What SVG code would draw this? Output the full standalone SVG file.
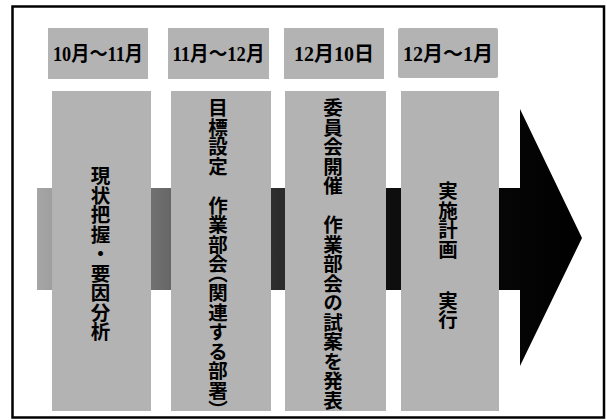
<svg xmlns="http://www.w3.org/2000/svg" width="607" height="420" viewBox="0 0 607 420">
  <defs>
    <linearGradient id="shaftGrad" gradientUnits="userSpaceOnUse" x1="37" y1="0" x2="582" y2="0">
      <stop offset="0" stop-color="#a6a6a6"/>
      <stop offset="0.22" stop-color="#6e6e6e"/>
      <stop offset="0.44" stop-color="#2c2c2c"/>
      <stop offset="0.65" stop-color="#0e0e0e"/>
      <stop offset="1" stop-color="#000000"/>
    </linearGradient>
    <style>
      .box { fill: #b3b3b3; }
      .date { font-family: "Liberation Serif", "Noto Sans CJK JP", serif; font-weight: bold; font-size: 20px; fill: #000; text-anchor: middle; }
      .vt { font-family: "Noto Sans CJK JP", sans-serif; font-weight: bold; font-size: 19.5px; fill: #000; writing-mode: vertical-rl; }
      .half { font-feature-settings: "vhal" 1; }
      .frame { fill: none; stroke: #000; stroke-width: 2.5; }
    </style>
  </defs>
  <rect x="0" y="0" width="607" height="420" fill="#ffffff"/>
  <rect class="frame" x="12.5" y="6.5" width="591.5" height="411"/>

  <g id="connectors">
    <polygon id="timeline-arrow" fill="url(#shaftGrad)" points="37,188 520,188 520,109 582,238 520,366 520,290 37,290"/>
  </g>

  <g id="date1">
    <rect class="box" x="48" y="28" width="100" height="51"/>
    <text class="date" x="98" y="61" textLength="90" lengthAdjust="spacingAndGlyphs">10月～11月</text>
  </g>
  <g id="date2">
    <rect class="box" x="168" y="28" width="101" height="51"/>
    <text class="date" x="218.5" y="61" textLength="92" lengthAdjust="spacingAndGlyphs">11月～12月</text>
  </g>
  <g id="date3">
    <rect class="box" x="284" y="28" width="100" height="51"/>
    <text class="date" x="334" y="61">12月10日</text>
  </g>
  <g id="date4">
    <rect class="box" x="398" y="28" width="100" height="50" rx="2"/>
    <text class="date" x="448" y="61">12月～1月</text>
  </g>

  <g id="step1">
    <rect class="box" x="52" y="91" width="99" height="320"/>
    <text class="vt" x="100.5" y="166">現状把握・要因分析</text>
  </g>
  <g id="step2">
    <rect class="box" x="171" y="91" width="100" height="320"/>
    <text class="vt" x="218" y="98">目標設定　作業部会<tspan class="half">（</tspan>関連する部署<tspan class="half">）</tspan></text>
  </g>
  <g id="step3">
    <rect class="box" x="285" y="91" width="101" height="320"/>
    <text class="vt" x="333" y="98">委員会開催　作業部会の試案を発表</text>
  </g>
  <g id="step4">
    <rect class="box" x="401" y="91" width="98" height="320"/>
    <text class="vt" x="448" y="181">実施計画 <tspan y="291">実行</tspan></text>
  </g>
</svg>
